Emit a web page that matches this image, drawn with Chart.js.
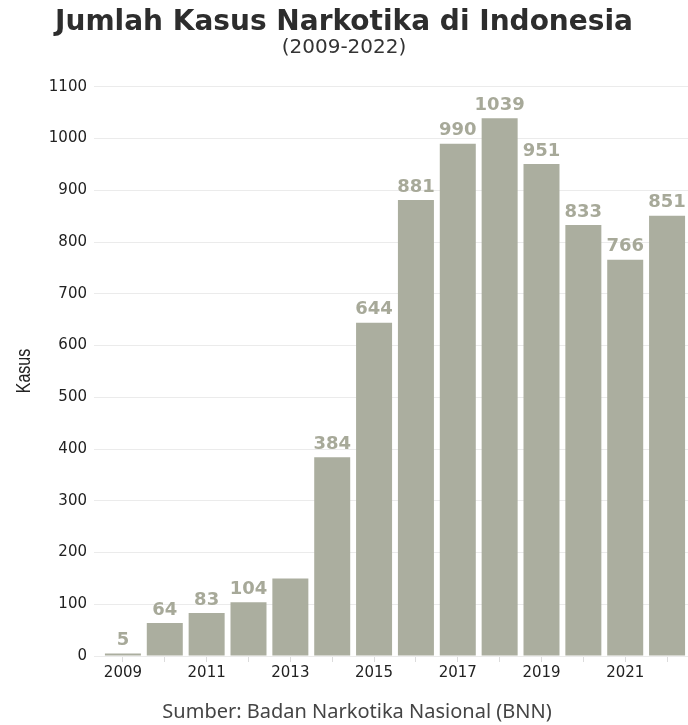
<!DOCTYPE html>
<html>
<head>
<meta charset="utf-8">
<script src="https://cdn.jsdelivr.net/npm/chart.js@4"></script>
<style>
    body { margin: 0; background: #fff; }
    #chart { display: block; }
</style>
</head>
<body>
<canvas id="chart" width="688" height="725"></canvas>
<script>
// Data
const years = ['2009', '2010', '2011', '2012', '2013', '2014', '2015', '2016', '2017', '2018', '2019', '2020', '2021', '2022'];
const cases = [5, 64, 83, 104, 150, 384, 644, 881, 990, 1039, 951, 833, 766, 851];
// label over each bar (2013 has none in the original)
const valueLabels = ['5', '64', '83', '104', null, '384', '644', '881', '990', '1039', '951', '833', '766', '851'];

const barColor = '#abae9f';
const labelColor = '#a7a999';

// Draws the value text above each bar
const barLabels = {
    id: 'barLabels',
    afterDatasetsDraw(chart) {
        const { ctx } = chart;
        const meta = chart.getDatasetMeta(0);
        ctx.save();
        ctx.font = 'bold 18px "DejaVu Sans"';
        ctx.fillStyle = labelColor;
        ctx.textAlign = 'center';
        ctx.textBaseline = 'bottom';
        meta.data.forEach((bar, i) => {
            if (valueLabels[i] === null) return;
            ctx.fillText(valueLabels[i], bar.x, bar.y - 4);
        });
        ctx.restore();
    }
};

// Y axis title (narrow) and the source line
const extraText = {
    id: 'extraText',
    afterDraw(chart) {
        const { ctx } = chart;
        ctx.save();
        ctx.fillStyle = '#222';
        ctx.textAlign = 'center';
        ctx.textBaseline = 'middle';
        ctx.translate(24, 371);
        ctx.rotate(-Math.PI / 2);
        ctx.scale(0.8, 1);
        ctx.font = '20px "Liberation Sans"';
        ctx.fillText('Kasus', 0, 0);
        ctx.restore();

        ctx.save();
        ctx.font = '20px "Noto Sans"';
        ctx.fillStyle = '#444';
        ctx.textAlign = 'center';
        ctx.textBaseline = 'middle';
        ctx.fillText('Sumber: Badan Narkotika Nasional (BNN)', 357, 712);
        ctx.restore();
    }
};

const ctx = document.getElementById('chart').getContext('2d');
new Chart(ctx, {
    type: 'bar',
    data: {
        labels: years,
        datasets: [{
            label: 'Kasus',
            data: cases,
            backgroundColor: barColor,
            barPercentage: 0.86,
            categoryPercentage: 1
        }]
    },
    options: {
        responsive: false,
        animation: false,
        layout: {
            padding: { left: 0, right: 0, top: 0, bottom: 41 }
        },
        plugins: {
            legend: { display: false },
            tooltip: { enabled: false },
            title: {
                display: true,
                text: 'Jumlah Kasus Narkotika di Indonesia',
                color: '#2d2d2d',
                font: { family: 'DejaVu Sans', size: 28, weight: 'bold', lineHeight: 1.1 },
                padding: { top: 7, bottom: 0 }
            },
            subtitle: {
                display: true,
                text: '(2009-2022)',
                color: '#333',
                font: { family: 'DejaVu Sans', size: 20, lineHeight: 1 },
                padding: { top: 0, bottom: 29 }
            }
        },
        scales: {
            x: {
                grid: {
                    display: true,
                    drawOnChartArea: false,
                    drawTicks: true,
                    tickLength: 6,
                    color: '#dcdcdc',
                    offset: false
                },
                border: { display: false },
                ticks: {
                    autoSkip: false,
                    maxRotation: 0,
                    color: '#222',
                    font: { family: 'DejaVu Sans', size: 15 },
                    padding: 2,
                    callback: (value, index) => (index % 2 === 0 ? years[index] : '')
                }
            },
            y: {
                min: 0,
                max: 1100,
                afterFit: (axis) => { axis.width = 102; },
                ticks: {
                    stepSize: 100,
                    color: '#222',
                    font: { family: 'DejaVu Sans', size: 15 },
                    padding: 7,
                    callback: (value) => String(value)
                },
                grid: {
                    color: '#ebebeb',
                    tickLength: 8
                },
                border: { display: false }
            }
        }
    },
    plugins: [barLabels, extraText]
});
</script>
</body>
</html>
